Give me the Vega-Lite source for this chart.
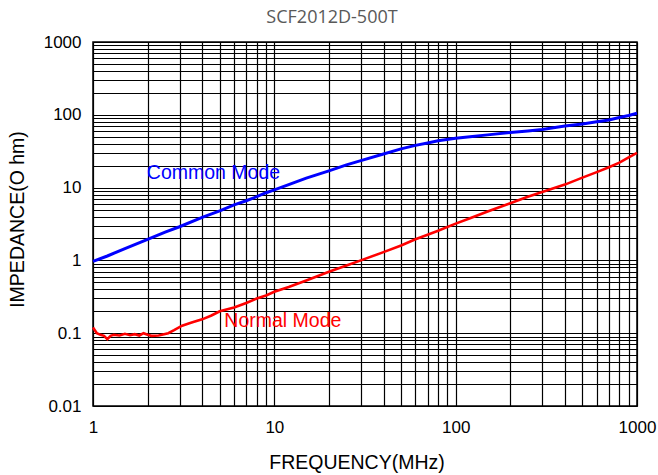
{
  "$schema": "https://vega.github.io/schema/vega-lite/v6.json",
  "width": 544,
  "height": 364,
  "autosize": {"type": "none"},
  "padding": {"left": 93, "top": 42, "right": 21, "bottom": 69},
  "title": {
    "text": "SCF2012D-500T",
    "font": "Open Sans",
    "fontSize": 18,
    "fontWeight": "normal",
    "color": "#595959",
    "anchor": "middle",
    "baseline": "alphabetic",
    "offset": -8,
    "dx": -33
  },
  "data": {
    "values": [
      {"f": 1, "z": 0.97, "series": "Common Mode"},
      {"f": 1.2, "z": 1.15, "series": "Common Mode"},
      {"f": 1.5, "z": 1.45, "series": "Common Mode"},
      {"f": 2, "z": 1.95, "series": "Common Mode"},
      {"f": 2.5, "z": 2.45, "series": "Common Mode"},
      {"f": 3, "z": 2.9, "series": "Common Mode"},
      {"f": 4, "z": 3.9, "series": "Common Mode"},
      {"f": 5, "z": 4.8, "series": "Common Mode"},
      {"f": 6, "z": 5.8, "series": "Common Mode"},
      {"f": 7, "z": 6.6, "series": "Common Mode"},
      {"f": 8, "z": 7.5, "series": "Common Mode"},
      {"f": 9, "z": 8.5, "series": "Common Mode"},
      {"f": 10, "z": 9.3, "series": "Common Mode"},
      {"f": 12, "z": 11, "series": "Common Mode"},
      {"f": 15, "z": 13.5, "series": "Common Mode"},
      {"f": 20, "z": 17, "series": "Common Mode"},
      {"f": 25, "z": 20.5, "series": "Common Mode"},
      {"f": 30, "z": 23.5, "series": "Common Mode"},
      {"f": 40, "z": 29, "series": "Common Mode"},
      {"f": 50, "z": 34, "series": "Common Mode"},
      {"f": 60, "z": 38, "series": "Common Mode"},
      {"f": 70, "z": 41, "series": "Common Mode"},
      {"f": 80, "z": 44, "series": "Common Mode"},
      {"f": 100, "z": 47.5, "series": "Common Mode"},
      {"f": 120, "z": 50, "series": "Common Mode"},
      {"f": 150, "z": 53, "series": "Common Mode"},
      {"f": 200, "z": 57, "series": "Common Mode"},
      {"f": 250, "z": 60, "series": "Common Mode"},
      {"f": 300, "z": 63, "series": "Common Mode"},
      {"f": 400, "z": 70, "series": "Common Mode"},
      {"f": 500, "z": 75, "series": "Common Mode"},
      {"f": 600, "z": 80, "series": "Common Mode"},
      {"f": 700, "z": 85, "series": "Common Mode"},
      {"f": 800, "z": 92, "series": "Common Mode"},
      {"f": 900, "z": 98, "series": "Common Mode"},
      {"f": 1000, "z": 105, "series": "Common Mode"},
      {"f": 1, "z": 0.12, "series": "Normal Mode"},
      {"f": 1.05, "z": 0.1, "series": "Normal Mode"},
      {"f": 1.1, "z": 0.095, "series": "Normal Mode"},
      {"f": 1.15, "z": 0.092, "series": "Normal Mode"},
      {"f": 1.2, "z": 0.083, "series": "Normal Mode"},
      {"f": 1.25, "z": 0.092, "series": "Normal Mode"},
      {"f": 1.3, "z": 0.095, "series": "Normal Mode"},
      {"f": 1.4, "z": 0.093, "series": "Normal Mode"},
      {"f": 1.5, "z": 0.098, "series": "Normal Mode"},
      {"f": 1.6, "z": 0.094, "series": "Normal Mode"},
      {"f": 1.7, "z": 0.097, "series": "Normal Mode"},
      {"f": 1.8, "z": 0.093, "series": "Normal Mode"},
      {"f": 1.9, "z": 0.1, "series": "Normal Mode"},
      {"f": 2.0, "z": 0.095, "series": "Normal Mode"},
      {"f": 2.1, "z": 0.092, "series": "Normal Mode"},
      {"f": 2.3, "z": 0.093, "series": "Normal Mode"},
      {"f": 2.6, "z": 0.1, "series": "Normal Mode"},
      {"f": 2.8, "z": 0.11, "series": "Normal Mode"},
      {"f": 3.1, "z": 0.127, "series": "Normal Mode"},
      {"f": 3.5, "z": 0.14, "series": "Normal Mode"},
      {"f": 4, "z": 0.155, "series": "Normal Mode"},
      {"f": 4.5, "z": 0.175, "series": "Normal Mode"},
      {"f": 5, "z": 0.2, "series": "Normal Mode"},
      {"f": 6, "z": 0.225, "series": "Normal Mode"},
      {"f": 7, "z": 0.26, "series": "Normal Mode"},
      {"f": 8, "z": 0.3, "series": "Normal Mode"},
      {"f": 9, "z": 0.33, "series": "Normal Mode"},
      {"f": 10, "z": 0.37, "series": "Normal Mode"},
      {"f": 12, "z": 0.43, "series": "Normal Mode"},
      {"f": 15, "z": 0.53, "series": "Normal Mode"},
      {"f": 20, "z": 0.7, "series": "Normal Mode"},
      {"f": 25, "z": 0.85, "series": "Normal Mode"},
      {"f": 30, "z": 1.0, "series": "Normal Mode"},
      {"f": 40, "z": 1.3, "series": "Normal Mode"},
      {"f": 50, "z": 1.6, "series": "Normal Mode"},
      {"f": 60, "z": 1.95, "series": "Normal Mode"},
      {"f": 70, "z": 2.25, "series": "Normal Mode"},
      {"f": 80, "z": 2.55, "series": "Normal Mode"},
      {"f": 100, "z": 3.2, "series": "Normal Mode"},
      {"f": 120, "z": 3.8, "series": "Normal Mode"},
      {"f": 150, "z": 4.7, "series": "Normal Mode"},
      {"f": 200, "z": 6.1, "series": "Normal Mode"},
      {"f": 250, "z": 7.5, "series": "Normal Mode"},
      {"f": 300, "z": 8.7, "series": "Normal Mode"},
      {"f": 400, "z": 11, "series": "Normal Mode"},
      {"f": 500, "z": 13.7, "series": "Normal Mode"},
      {"f": 600, "z": 16.3, "series": "Normal Mode"},
      {"f": 700, "z": 19, "series": "Normal Mode"},
      {"f": 800, "z": 22, "series": "Normal Mode"},
      {"f": 900, "z": 26, "series": "Normal Mode"},
      {"f": 1000, "z": 30, "series": "Normal Mode"}
    ]
  },
  "encoding": {
    "x": {
      "field": "f",
      "type": "quantitative",
      "title": "FREQUENCY(MHz)",
      "scale": {"type": "log", "domain": [1, 1000], "nice": false},
      "axis": {
        "values": [1, 2, 3, 4, 5, 6, 7, 8, 9, 10, 20, 30, 40, 50, 60, 70, 80, 90, 100, 200, 300, 400, 500, 600, 700, 800, 900, 1000],
        "labelExpr": "abs(log(datum.value)/LN10 - round(log(datum.value)/LN10)) < 0.001 ? format(datum.value, '~g') : ''",
        "labelPadding": 13,
        "titleX": 263.5,
        "titleY": 62,
        "titleAlign": "center",
        "titleBaseline": "alphabetic"
      }
    },
    "y": {
      "field": "z",
      "type": "quantitative",
      "title": "IMPEDANCE(O hm)",
      "scale": {"type": "log", "domain": [0.01, 1000], "nice": false},
      "axis": {
        "values": [0.01, 0.02, 0.03, 0.04, 0.05, 0.06, 0.07, 0.08, 0.09, 0.1, 0.2, 0.3, 0.4, 0.5, 0.6, 0.7, 0.8, 0.9, 1, 2, 3, 4, 5, 6, 7, 8, 9, 10, 20, 30, 40, 50, 60, 70, 80, 90, 100, 200, 300, 400, 500, 600, 700, 800, 900, 1000],
        "labelExpr": "abs(log(datum.value)/LN10 - round(log(datum.value)/LN10)) < 0.001 ? format(datum.value, '~g') : ''",
        "labelPadding": 12,
        "titleX": -70,
        "titleY": 177,
        "titleAngle": -90,
        "titleAlign": "center",
        "titleBaseline": "alphabetic"
      }
    }
  },
  "layer": [
    {
      "mark": {"type": "line", "interpolate": "linear"},
      "encoding": {
        "color": {
          "field": "series",
          "type": "nominal",
          "legend": null,
          "scale": {"domain": ["Common Mode", "Normal Mode"], "range": ["#0000ff", "#ff0000"]}
        },
        "strokeWidth": {
          "field": "series",
          "type": "nominal",
          "legend": null,
          "scale": {"domain": ["Common Mode", "Normal Mode"], "range": [3, 2.6]}
        }
      }
    },
    {
      "data": {
        "values": [
          {"f": 1.98, "z": 15.8, "label": "Common Mode", "series": "Common Mode"},
          {"f": 5.3, "z": 0.147, "label": "Normal Mode", "series": "Normal Mode"}
        ]
      },
      "mark": {"type": "text", "align": "left", "baseline": "middle", "font": "Liberation Sans", "fontSize": 19.5},
      "encoding": {
        "text": {"field": "label", "type": "nominal"},
        "color": {
          "field": "series",
          "type": "nominal",
          "legend": null,
          "scale": {"domain": ["Common Mode", "Normal Mode"], "range": ["#0000ff", "#ff0000"]}
        }
      }
    }
  ],
  "config": {
    "view": {"stroke": "#000000", "strokeWidth": 1.5},
    "axis": {
      "domain": false,
      "ticks": false,
      "grid": true,
      "gridColor": "#000000",
      "gridWidth": 1.2,
      "gridOpacity": 1,
      "labelFont": "Liberation Sans",
      "labelFontSize": 17,
      "labelColor": "#000000",
      "labelOverlap": false,
      "labelFlush": false,
      "labelBound": false,
      "titleFont": "Liberation Sans",
      "titleFontSize": 19.5,
      "titleFontWeight": "normal",
      "titleColor": "#000000"
    }
  }
}
